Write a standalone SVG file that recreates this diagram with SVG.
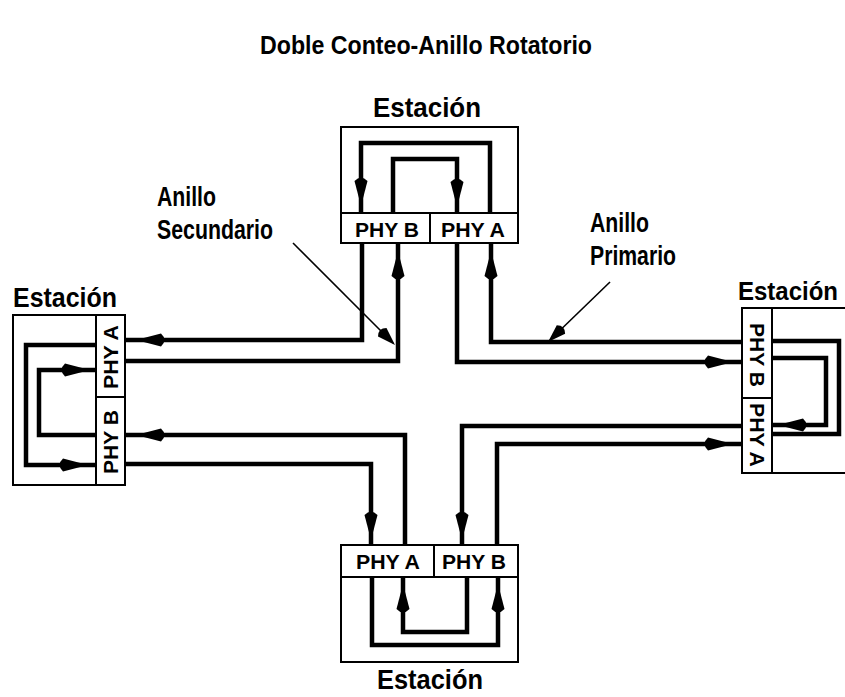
<svg xmlns="http://www.w3.org/2000/svg" xmlns:xlink="http://www.w3.org/1999/xlink" width="845" height="697" viewBox="0 0 845 697">
<style>
.box{fill:#fff;stroke:#000;stroke-width:2}
.ln{fill:none;stroke:#000;stroke-width:4.5;stroke-linejoin:miter;stroke-linecap:butt}
.ptr{fill:none;stroke:#000;stroke-width:1.6}
.t{font-family:"Liberation Sans",Arial,sans-serif;font-weight:bold;fill:#000}
.lbl{font-size:27px}
.phy{font-size:21px;text-anchor:middle}
</style>
<defs>
<path id="ah" d="M0,0 L-25,-6.5 Q-32,0 -25,6.5 Z" fill="#000"/>
<path id="ahs" d="M0,0 L-18,-6 Q-24,0 -18,6 Z" fill="#000"/>
</defs>
<rect width="845" height="697" fill="#fff"/>
<text class="t" x="260" y="54" font-size="25" textLength="332" lengthAdjust="spacingAndGlyphs">Doble Conteo-Anillo Rotatorio</text>

<g id="connectors">
<path class="ln" d="M362,243 V340 H125"/>
<path class="ln" d="M125,361 H398 V243"/>
<path class="ln" d="M457,243 V362 H742"/>
<path class="ln" d="M742,342 H491 V243"/>
<path class="ln" d="M742,426 H462 V545"/>
<path class="ln" d="M497,545 V444 H742"/>
<path class="ln" d="M405,545 V435 H125"/>
<path class="ln" d="M125,464 H371 V545"/>
<use xlink:href="#ah" transform="translate(136,340) rotate(180)"/>
<use xlink:href="#ah" transform="translate(398,251) rotate(-90)"/>
<use xlink:href="#ah" transform="translate(733,362)"/>
<use xlink:href="#ah" transform="translate(491,251) rotate(-90)"/>
<use xlink:href="#ah" transform="translate(462,540) rotate(90)"/>
<use xlink:href="#ah" transform="translate(733,444)"/>
<use xlink:href="#ah" transform="translate(136,435) rotate(180)"/>
<use xlink:href="#ah" transform="translate(371,540) rotate(90)"/>
</g>

<g id="label-secundario">
<text class="t lbl" x="157" y="206" textLength="59" lengthAdjust="spacingAndGlyphs">Anillo</text>
<text class="t lbl" x="157" y="239" textLength="116" lengthAdjust="spacingAndGlyphs">Secundario</text>
<path class="ptr" d="M293,243 L393,343"/>
<use xlink:href="#ahs" transform="translate(395,345) rotate(45)"/>
</g>

<g id="label-primario">
<text class="t lbl" x="590" y="232" textLength="59" lengthAdjust="spacingAndGlyphs">Anillo</text>
<text class="t lbl" x="590" y="265" textLength="86" lengthAdjust="spacingAndGlyphs">Primario</text>
<path class="ptr" d="M610,282 L550,340"/>
<use xlink:href="#ahs" transform="translate(548,342) rotate(136)"/>
</g>

<g id="station-top">
<text class="t lbl" x="427" y="117" text-anchor="middle" textLength="108" lengthAdjust="spacingAndGlyphs">Estación</text>
<rect class="box" x="341" y="127" width="177" height="116"/>
<line class="box" x1="341" y1="213" x2="518" y2="213"/>
<line class="box" x1="430" y1="213" x2="430" y2="243"/>
<text class="t phy" x="387" y="237" textLength="64" lengthAdjust="spacingAndGlyphs">PHY B</text>
<text class="t phy" x="473" y="237" textLength="64" lengthAdjust="spacingAndGlyphs">PHY A</text>
<path class="ln" d="M361,213 V143 H490 V213"/>
<path class="ln" d="M393,213 V159 H457 V213"/>
<use xlink:href="#ah" transform="translate(361,206) rotate(90)"/>
<use xlink:href="#ah" transform="translate(457,207) rotate(90)"/>
</g>

<g id="station-left">
<text class="t lbl" x="13" y="307" textLength="104" lengthAdjust="spacingAndGlyphs">Estación</text>
<rect class="box" x="13" y="315" width="112" height="170"/>
<line class="box" x1="96" y1="315" x2="96" y2="485"/>
<line class="box" x1="96" y1="397" x2="125" y2="397"/>
<text class="t phy" transform="translate(118,357) rotate(-90)" textLength="64" lengthAdjust="spacingAndGlyphs">PHY A</text>
<text class="t phy" transform="translate(118,442) rotate(-90)" textLength="64" lengthAdjust="spacingAndGlyphs">PHY B</text>
<path class="ln" d="M96,345 H26 V465 H96"/>
<path class="ln" d="M96,435 H39 V370 H96"/>
<use xlink:href="#ah" transform="translate(90,370)"/>
<use xlink:href="#ah" transform="translate(88,465)"/>
</g>

<g id="station-right">
<text class="t" x="738" y="300" font-size="25" textLength="100" lengthAdjust="spacingAndGlyphs">Estación</text>
<rect class="box" x="742" y="308" width="120" height="165"/>
<line class="box" x1="772" y1="308" x2="772" y2="473"/>
<line class="box" x1="742" y1="398" x2="772" y2="398"/>
<text class="t phy" transform="translate(750,355) rotate(90)" textLength="64" lengthAdjust="spacingAndGlyphs">PHY B</text>
<text class="t phy" transform="translate(750,435) rotate(90)" textLength="64" lengthAdjust="spacingAndGlyphs">PHY A</text>
<path class="ln" d="M772,341 H839 V434 H772"/>
<path class="ln" d="M772,358 H826 V425 H772"/>
<use xlink:href="#ah" transform="translate(778,425) rotate(180)"/>
</g>

<g id="station-bottom">
<rect class="box" x="341" y="545" width="177" height="117"/>
<line class="box" x1="341" y1="577" x2="518" y2="577"/>
<line class="box" x1="434" y1="545" x2="434" y2="577"/>
<text class="t phy" x="388" y="569" textLength="64" lengthAdjust="spacingAndGlyphs">PHY A</text>
<text class="t phy" x="474" y="569" textLength="64" lengthAdjust="spacingAndGlyphs">PHY B</text>
<path class="ln" d="M467,577 V632 H403 V577"/>
<path class="ln" d="M372,577 V645 H498 V577"/>
<use xlink:href="#ah" transform="translate(403,584) rotate(-90)"/>
<use xlink:href="#ah" transform="translate(498,584) rotate(-90)"/>
<text class="t lbl" x="430" y="689" text-anchor="middle" textLength="106" lengthAdjust="spacingAndGlyphs">Estación</text>
</g>
</svg>
